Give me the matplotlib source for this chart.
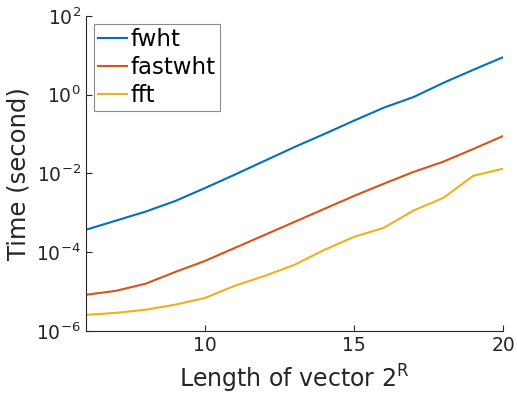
import numpy as np
import matplotlib
matplotlib.use('Agg')
import matplotlib.pyplot as plt

# log10 of run time
R = np.arange(6, 21)
fwht = [-3.43, -3.2, -2.97, -2.7, -2.37, -2.03, -1.68, -1.33, -1.0, -0.66, -0.33, -0.06, 0.3, 0.63, 0.95]
fastwht = [-5.08, -4.98, -4.8, -4.5, -4.22, -3.89, -3.56, -3.23, -2.9, -2.57, -2.26, -1.96, -1.7, -1.38, -1.05]
fft = [-5.59, -5.54, -5.46, -5.33, -5.16, -4.85, -4.6, -4.32, -3.94, -3.61, -3.38, -2.94, -2.62, -2.06, -1.88]

dark = '#262626'
plt.rcParams['font.family'] = 'DejaVu Sans'

fig = plt.figure(figsize=(5.17, 3.96), dpi=100)
ax = fig.add_axes([0.166, 0.164, 0.807, 0.796])

ax.plot(R, 10**np.array(fwht), color='#0072BD', lw=1.5, label='fwht')
ax.plot(R, 10**np.array(fastwht), color='#D95319', lw=1.5, label='fastwht')
ax.plot(R, 10**np.array(fft), color='#EDB120', lw=1.5, label='fft')

ax.set_yscale('log')
ax.set_xlim(6, 20)
ax.set_ylim(1e-6, 1e2)
ax.set_xticks([10, 15, 20])
ax.set_yticks([1e-6, 1e-4, 1e-2, 1e0, 1e2])
ax.minorticks_off()

for s in ['top', 'right']:
    ax.spines[s].set_visible(False)
for s in ['left', 'bottom']:
    ax.spines[s].set_color(dark)
    ax.spines[s].set_linewidth(0.8)
ax.tick_params(direction='in', length=4, width=0.8, color=dark, labelcolor=dark, labelsize=13.5)

ax.set_xlabel('Length of vector $\\mathregular{2^R}$', fontsize=17, color=dark, labelpad=6)
ax.set_ylabel('Time (second)', fontsize=17.5, color=dark)

leg = ax.legend(loc='upper left', fontsize=16.5, handlelength=1.25, handletextpad=0.15,
                borderpad=0.2, labelspacing=0.2, fancybox=False, framealpha=1,
                borderaxespad=0.35)
leg.get_frame().set_edgecolor('#8c8c8c')
leg.get_frame().set_linewidth(0.8)

fig.savefig('out.png', dpi=100)
